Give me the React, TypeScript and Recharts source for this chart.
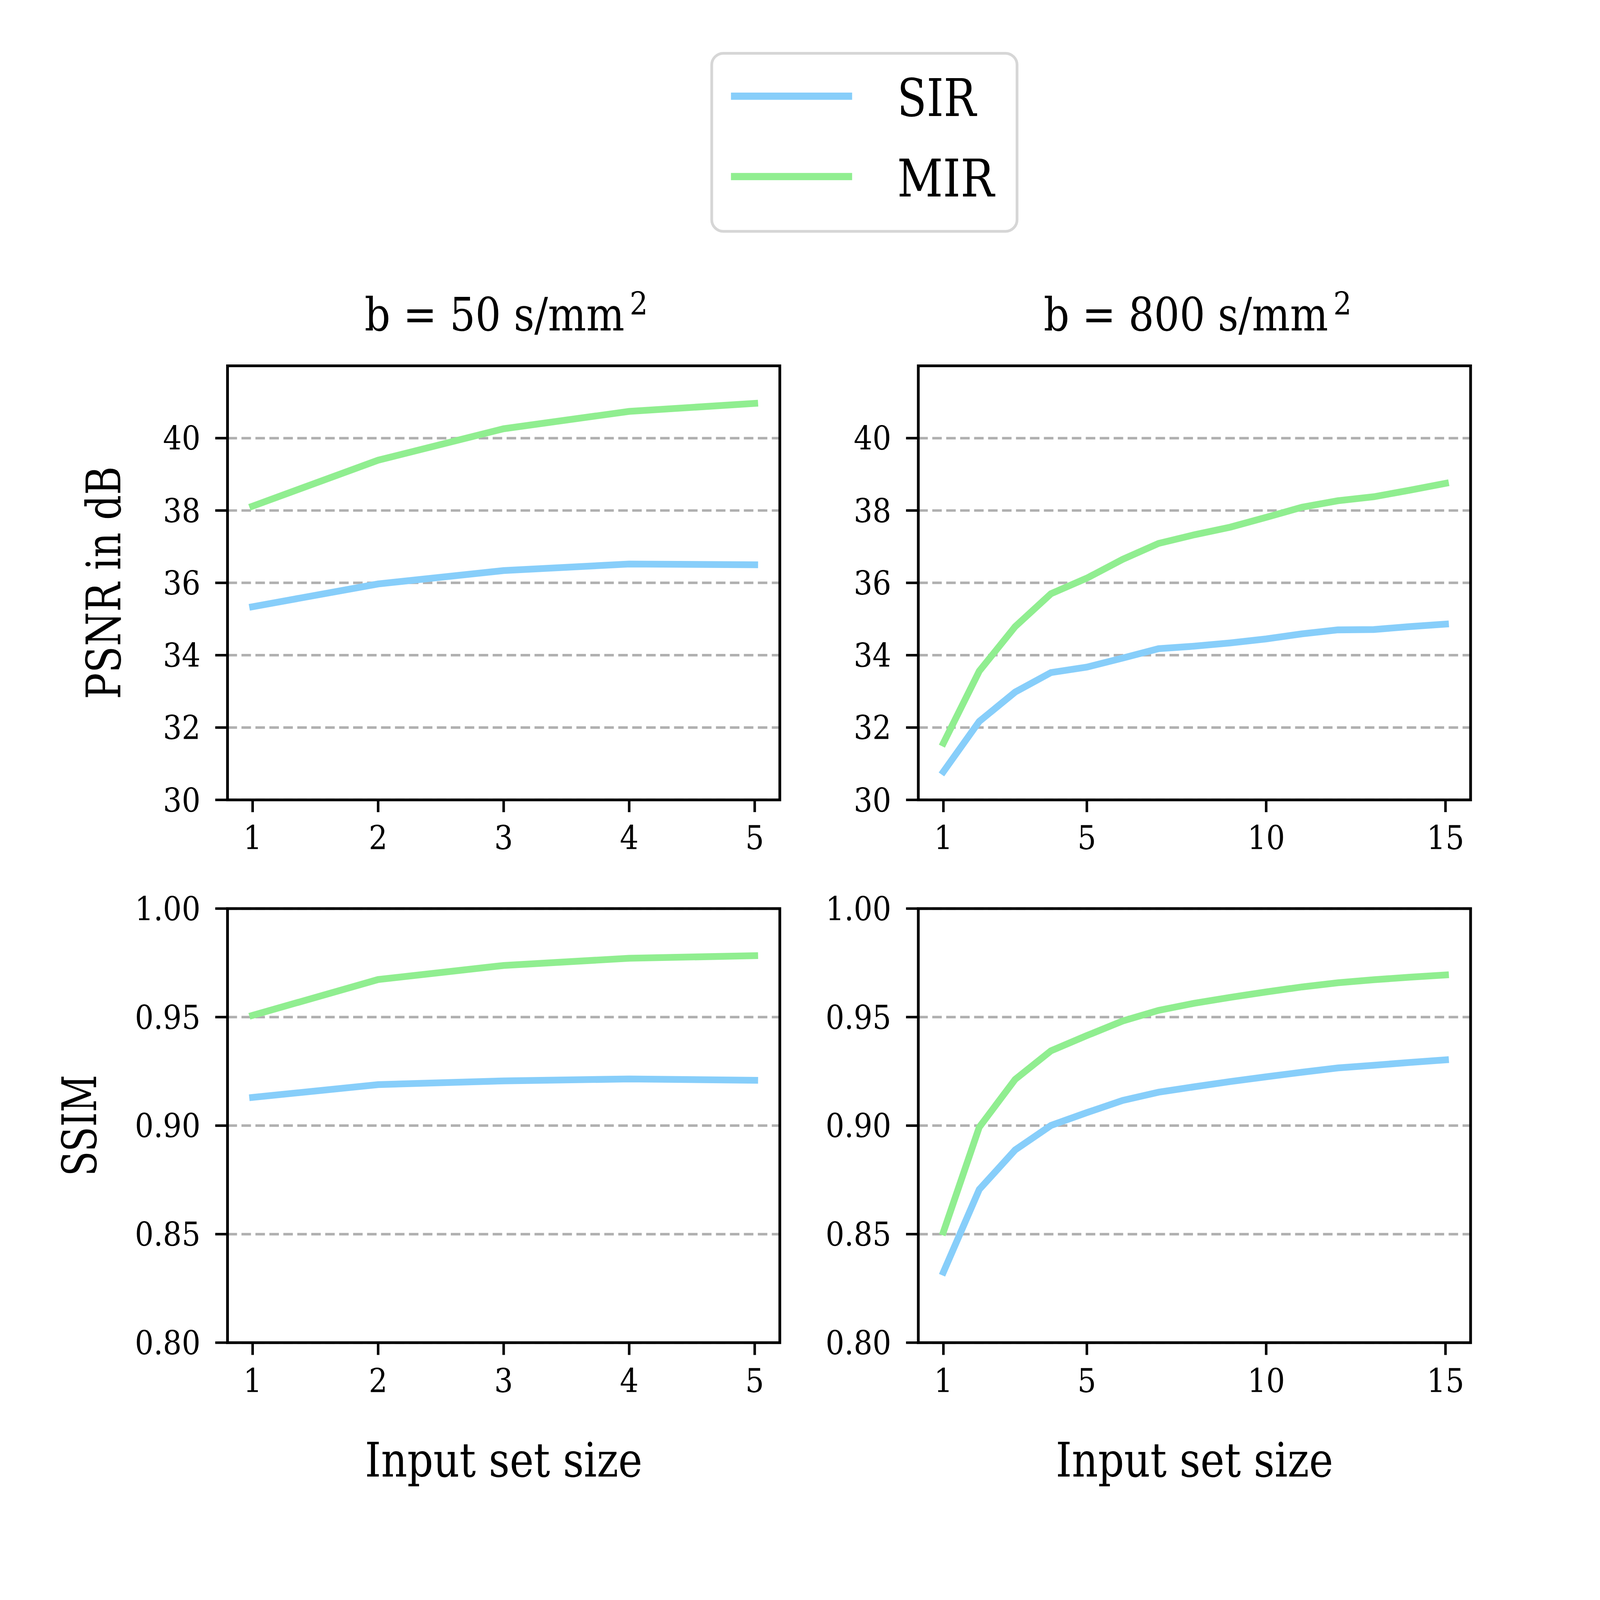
import { LineChart, Line, XAxis, YAxis, CartesianGrid, ReferenceArea } from "recharts";

// input set sizes
const sizes50 = [1, 2, 3, 4, 5];
const sizes800 = [1, 2, 3, 4, 5, 6, 7, 8, 9, 10, 11, 12, 13, 14, 15];

// PSNR (dB)
const psnrSir50 = [35.34, 35.97, 36.34, 36.52, 36.5];
const psnrMir50 = [38.12, 39.39, 40.26, 40.74, 40.96];
const psnrSir800 = [30.78, 32.17, 32.98, 33.52, 33.67, 33.92, 34.18, 34.25, 34.34, 34.45, 34.59, 34.7, 34.71, 34.79, 34.86];
const psnrMir800 = [31.57, 33.56, 34.79, 35.7, 36.13, 36.65, 37.09, 37.33, 37.54, 37.81, 38.09, 38.27, 38.38, 38.56, 38.75];

// SSIM
const ssimSir50 = [0.913, 0.9189, 0.9206, 0.9215, 0.9209];
const ssimMir50 = [0.9508, 0.9673, 0.9738, 0.9771, 0.9783];
const ssimSir800 = [0.8325, 0.8706, 0.8888, 0.9001, 0.906, 0.9116, 0.9154, 0.9179, 0.9203, 0.9225, 0.9246, 0.9266, 0.9278, 0.9291, 0.9303];
const ssimMir800 = [0.851, 0.8993, 0.9213, 0.9345, 0.9415, 0.9482, 0.9531, 0.9564, 0.9591, 0.9616, 0.9639, 0.9658, 0.9672, 0.9684, 0.9694];

// axis ticks
const xTicks50 = [1, 2, 3, 4, 5];
const xTicks800 = [1, 5, 10, 15];
const psnrTicks = [30, 32, 34, 36, 38, 40];
const ssimTicks = [0.8, 0.85, 0.9, 0.95, 1.0];

const SERIES = [
  { key: "sir", name: "SIR", color: "#87cefa" },
  { key: "mir", name: "MIR", color: "#90ee90" },
];

const FONT = "'DejaVu Serif Condensed', 'DejaVu Serif', serif";

// design size (reference pixels)
const W = 7567;
const H = 7154;

// plot box size and chart paddings
const PW = 2612;
const PH = 2053;
const YW = 500;
const MT = 150;
const MR = 40;
const XH = 300;
const LW = 32;
const SPINE = 13;

const toRows = (xs: number[], sir: number[], mir: number[]) =>
  xs.map((x, i) => ({ x, sir: sir[i], mir: mir[i] }));

const panels = [
  { left: 1076, top: 1730, data: toRows(sizes50, psnrSir50, psnrMir50), xDomain: [0.8, 5.2], xTicks: xTicks50, yDomain: [30, 42], yTicks: psnrTicks, fmt: (v: number) => String(v) },
  { left: 4343, top: 1730, data: toRows(sizes800, psnrSir800, psnrMir800), xDomain: [0.3, 15.7], xTicks: xTicks800, yDomain: [30, 42], yTicks: psnrTicks, fmt: (v: number) => String(v) },
  { left: 1076, top: 4297, data: toRows(sizes50, ssimSir50, ssimMir50), xDomain: [0.8, 5.2], xTicks: xTicks50, yDomain: [0.8, 1.0], yTicks: ssimTicks, fmt: (v: number) => v.toFixed(2) },
  { left: 4343, top: 4297, data: toRows(sizes800, ssimSir800, ssimMir800), xDomain: [0.3, 15.7], xTicks: xTicks800, yDomain: [0.8, 1.0], yTicks: ssimTicks, fmt: (v: number) => v.toFixed(2) },
];

function Panel({ p }: { p: (typeof panels)[number] }) {
  const tick = { fontSize: 155, fill: "#000" };
  const tickLine = { stroke: "#000", strokeWidth: 12 };
  return (
    <div style={{ position: "absolute", left: p.left - YW, top: p.top - MT }}>
      <LineChart width={YW + PW + MR} height={MT + PH + XH} data={p.data} margin={{ top: MT, right: MR, bottom: 0, left: 0 }}>
        <CartesianGrid horizontal vertical={false} stroke="#b0b0b0" strokeWidth={12} strokeDasharray="45 21" />
        <XAxis
          dataKey="x" type="number" domain={p.xDomain} ticks={p.xTicks} allowDataOverflow interval={0}
          height={XH} axisLine={false} tickSize={58} tickMargin={66} tickLine={tickLine} tick={tick}
        />
        <YAxis
          type="number" domain={p.yDomain} ticks={p.yTicks} allowDataOverflow interval={0}
          width={YW} axisLine={false} tickSize={58} tickMargin={70} tickLine={tickLine} tick={tick}
          tickFormatter={p.fmt}
        />
        {SERIES.map((s) => (
          <Line
            key={s.key} type="linear" dataKey={s.key} name={s.name} stroke={s.color}
            strokeWidth={LW} strokeLinecap="square" dot={false} activeDot={false} isAnimationActive={false}
          />
        ))}
        <ReferenceArea
          x1={p.xDomain[0]} x2={p.xDomain[1]} y1={p.yDomain[0]} y2={p.yDomain[1]}
          fill="none" fillOpacity={0} stroke="#000" strokeWidth={SPINE} ifOverflow="visible"
        />
      </LineChart>
    </div>
  );
}

export default function App() {
  // the window may report fewer CSS pixels than the photo has; scale the design to fit
  const vw = typeof window !== "undefined" ? window.innerWidth : W;
  const vh = typeof window !== "undefined" ? window.innerHeight : H;
  const s = vw / W;

  return (
    <div style={{ position: "absolute", left: 0, top: 0, width: vw, height: vh, overflow: "hidden", background: "#fff" }}>
      <div
        style={{
          position: "absolute", left: 0, top: 0, width: W, height: H,
          transform: `scale(${s})`, transformOrigin: "0 0",
          background: "#fff", fontFamily: FONT,
        }}
      >
        {panels.map((p, i) => (
          <Panel key={i} p={p} />
        ))}
        <svg width={W} height={H} style={{ position: "absolute", left: 0, top: 0, pointerEvents: "none" }}>
          <g fontFamily={FONT} fill="#000">
            {/* column titles */}
            <text x={1724} y={1563} fontSize={217}>
              <tspan textLength={1229} lengthAdjust="spacingAndGlyphs">b = 50 s/mm</tspan>
              <tspan x={2978} y={1487} fontSize={150}>2</tspan>
            </text>
            <text x={4936} y={1563} fontSize={217}>
              <tspan textLength={1345} lengthAdjust="spacingAndGlyphs">b = 800 s/mm</tspan>
              <tspan x={6306} y={1487} fontSize={150}>2</tspan>
            </text>

            {/* axis labels */}
            <text transform="translate(569,2756) rotate(-90)" textAnchor="middle" fontSize={225} textLength={1102} lengthAdjust="spacingAndGlyphs">
              PSNR in dB
            </text>
            <text transform="translate(454,5323) rotate(-90)" textAnchor="middle" fontSize={225} textLength={480} lengthAdjust="spacingAndGlyphs">
              SSIM
            </text>
            <text x={2382} y={6983} textAnchor="middle" fontSize={225} textLength={1312} lengthAdjust="spacingAndGlyphs">
              Input set size
            </text>
            <text x={5649} y={6983} textAnchor="middle" fontSize={225} textLength={1312} lengthAdjust="spacingAndGlyphs">
              Input set size
            </text>
          </g>

          {/* legend */}
          <rect x={3366} y={252} width={1444} height={842} rx={55} fill="#fff" stroke="#d6d6d6" strokeWidth={13} />
          {SERIES.map((sr, i) => (
            <g key={sr.key}>
              <line x1={3457} x2={4030} y1={455 + i * 380} y2={455 + i * 380} stroke={sr.color} strokeWidth={34} />
              <text
                x={4243} y={549 + i * 380} fontSize={245} fontFamily={FONT} fill="#000"
                textLength={i === 0 ? 373 : 459} lengthAdjust="spacingAndGlyphs"
              >
                {sr.name}
              </text>
            </g>
          ))}
        </svg>
      </div>
    </div>
  );
}
